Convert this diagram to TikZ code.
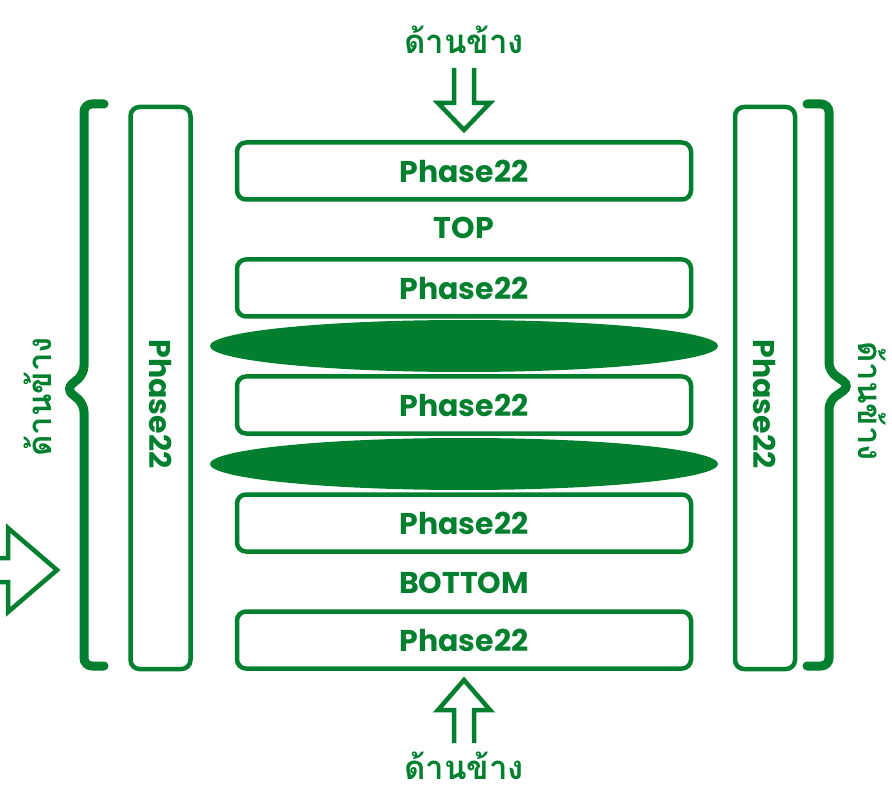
\documentclass[tikz,border=0pt]{standalone}
\usepackage{fontspec}
\usepackage{tikz}
\usetikzlibrary{shapes,arrows}
\newfontfamily\thaifont[Script=Thai]{Loma}
\newfontfamily\gothicfont{Poppins}
\definecolor{leafgreen}{RGB}{0,128,46}

\begin{document}
\begin{tikzpicture}[x=1pt,y=-1pt]
\tikzset{every node/.style={text=leafgreen,inner sep=0pt}}
\tikzset{tag/.style={font=\gothicfont\bfseries\fontsize{30}{30}\selectfont}}
\tikzset{layer/.style={tag,draw=leafgreen,line width=4.5pt,fill=white,rounded corners=9pt,minimum width=454pt,minimum height=57pt}}
\tikzset{wall/.style={layer,minimum width=60pt,minimum height=562pt}}
\tikzset{lens/.style={ellipse,fill=leafgreen,minimum width=508pt,minimum height=52pt}}
\tikzset{side/.style={font=\thaifont\bfseries\fontsize{33}{33}\selectfont}}
\tikzset{brace/.style={draw=leafgreen,line width=9pt,line cap=round,rounded corners=8pt}}
\tikzset{push/.style={draw=leafgreen,line width=4.5pt,fill=white}}
\useasboundingbox (0,0) rectangle (892,794);
% layers between the two walls
\node[lens] (gap1) at (464,346) {};
\node[lens] (gap2) at (464,464) {};
\node[layer] (p1) at (464,171) {Phase22};
\node[tag] (top) at (464,228) {TOP};
\node[layer] (p2) at (464,288) {Phase22};
\node[layer] (p3) at (464,405) {Phase22};
\node[layer] (p4) at (464,523) {Phase22};
\node[tag] (bottom) at (464,583) {BOTTOM};
\node[layer] (p5) at (464,640) {Phase22};
% walls
\node[wall] (lwall) at (160.5,388) {};
\node[tag,rotate=-90] (ltext) at ([yshift=-16pt]lwall.center) {Phase22};
\node[wall] (rwall) at (765,388) {};
\node[tag,rotate=-90] (rtext) at ([yshift=-16pt]rwall.center) {Phase22};
% braces and sides
\draw[brace] (104,104) -| (84,374) -- (66,389) -- (84,404) |- (104,666);
\draw[brace] (807,104) -| (829,371) -- (850,386) -- (829,401) |- (807,666);
\node[side,rotate=90] (lside) at (38,397) {ด้านข้าง};
\node[side,rotate=-90] (rside) at (872,401) {ด้านข้าง};
\node[side] (tside) at (464,40) {ด้านข้าง};
\node[side] (bside) at (464,766) {ด้านข้าง};
% hollow arrows
\draw[push] (454,68) -- (454,103) -- (438,103) -- (464,130) -- (490,103) -- (474,103) -- (474,68);
\draw[push] (454,743) -- (454,710) -- (438,710) -- (464,680) -- (490,710) -- (474,710) -- (474,743);
\draw[push] (-6,558) -- (8,558) -- (8,528) -- (57,570) -- (8,612) -- (8,582) -- (-6,582);
\end{tikzpicture}
\end{document}
